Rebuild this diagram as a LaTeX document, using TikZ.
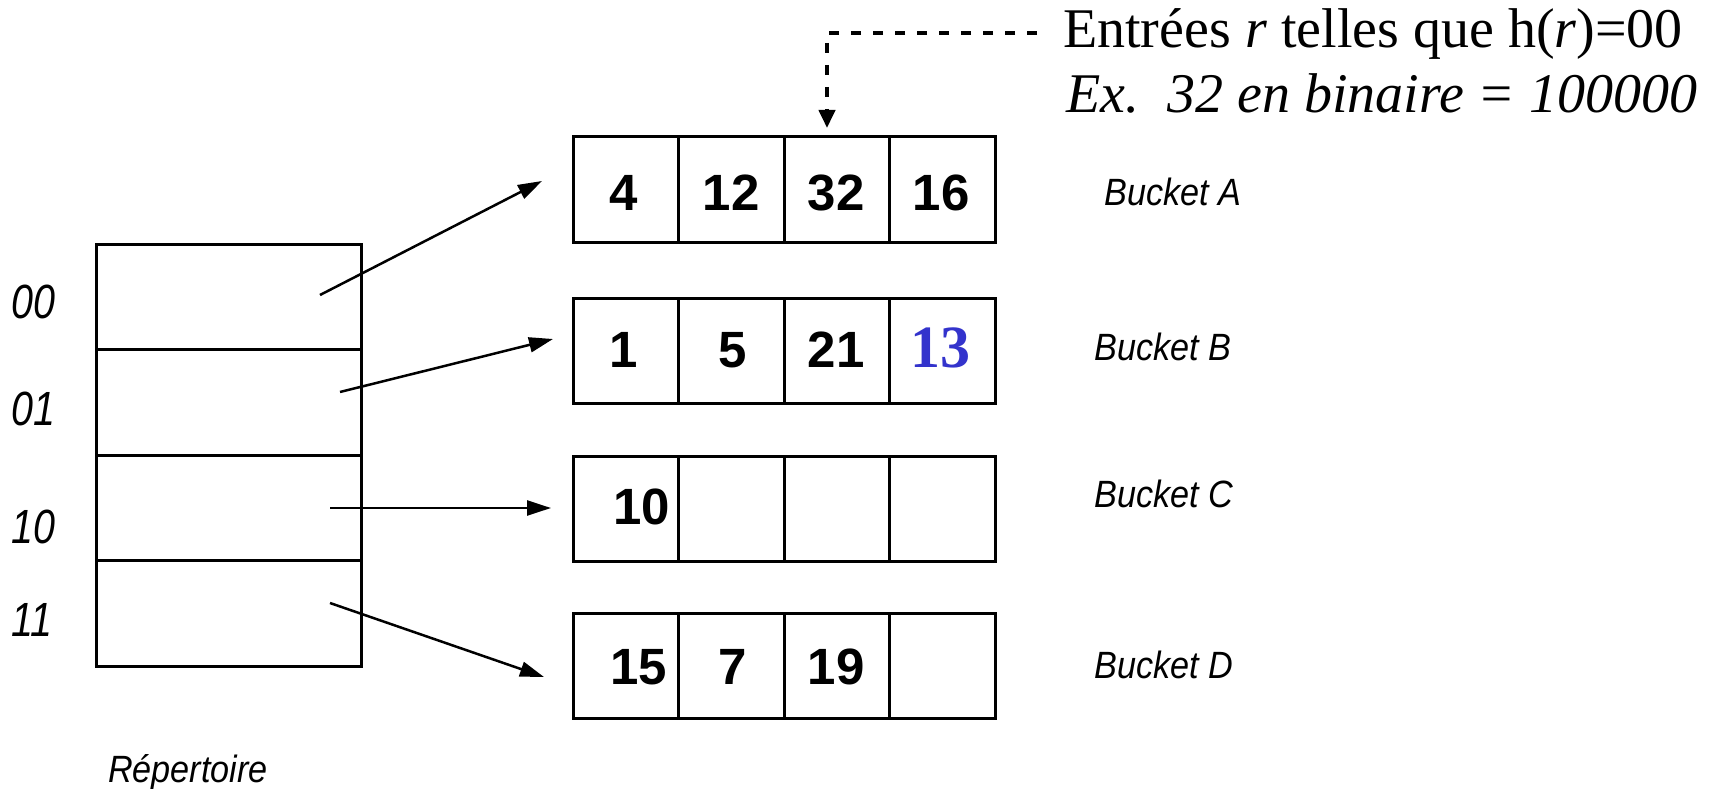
\documentclass[tikz,border=0pt]{standalone}
\usepackage{fontspec}
\setmainfont{Liberation Serif}
\newfontfamily\hv{Liberation Sans}
\usetikzlibrary{arrows.meta}
\definecolor{numblue}{RGB}{51,51,204}
\newcommand{\condtxt}[2]{\scalebox{#1}[1]{#2}}
\begin{document}
\begin{tikzpicture}[x=1pt,y=-1pt,
  cell/.style={draw,line width=3pt,minimum width=105.5pt,minimum height=105pt,inner sep=0pt,outer sep=0pt},
  dircell/.style={draw,line width=3pt,minimum width=265pt,minimum height=105.5pt,inner sep=0pt,outer sep=0pt},
  num/.style={font=\hv\bfseries\fontsize{51}{51}\selectfont,inner sep=0pt},
  lbl/.style={font=\hv\itshape\fontsize{38}{38}\selectfont,anchor=west,inner sep=0pt},
  dlbl/.style={font=\hv\itshape\fontsize{48}{48}\selectfont,anchor=west,inner sep=0pt},
  ptr/.style={line width=2.5pt,-{Triangle[length=24pt,width=15pt]}},
  note/.style={anchor=base west,inner sep=0pt,font=\fontsize{56}{60}\selectfont},
]
\useasboundingbox (0,0) rectangle (1711,789);

% directory
\node[dircell] (d00) at (228.5,296.75) {};
\node[dircell] (d01) at (228.5,402.25) {};
\node[dircell] (d10) at (228.5,507.75) {};
\node[dircell] (d11) at (228.5,613.25) {};

\node[dlbl] (l00) at (11,302) {\condtxt{0.82}{00}};
\node[dlbl] (l01) at (11,409) {\condtxt{0.82}{01}};
\node[dlbl] (l10) at (11,527) {\condtxt{0.82}{10}};
\node[dlbl] (l11) at (11,620) {\condtxt{0.82}{11}};
\node[font=\hv\itshape\fontsize{38}{38}\selectfont,anchor=base,inner sep=0pt] (rep) at (188,782) {\condtxt{0.9}{Répertoire}};

% buckets
\foreach \b/\y in {A/189.5,B/350.5,C/508.5,D/665.5}{
  \foreach \i/\x in {1/625.75,2/731.25,3/836.75,4/942.25}{
    \node[cell] (\b\i) at (\x,\y) {};
  }
}

% contents
\node[num] (vA1) at (624,193) {4};
\node[num] (vA2) at (731,193) {12};
\node[num] (vA3) at (836,193) {32};
\node[num] (vA4) at (941,193) {16};
\node[num] (vB1) at (624,350) {1};
\node[num] (vB2) at (733,350) {5};
\node[num] (vB3) at (836,350) {21};
\node[font=\bfseries\fontsize{60}{60}\selectfont,text=numblue,inner sep=0pt] (vB4) at (940,348) {13};
\node[num] (vC1) at (642,507) {10};
\node[num] (vD1) at (639,667) {15};
\node[num] (vD2) at (733,667) {7};
\node[num] (vD3) at (836,667) {19};

\node[lbl] (lA) at (1104,192) {\condtxt{0.9}{Bucket A}};
\node[lbl] (lB) at (1094,347) {\condtxt{0.9}{Bucket B}};
\node[lbl] (lC) at (1094,494) {\condtxt{0.9}{Bucket C}};
\node[lbl] (lD) at (1094,665) {\condtxt{0.9}{Bucket D}};

% pointers
\coordinate (p00) at (320,295);  \coordinate (q00) at (542,181);
\coordinate (p01) at (340,392);  \coordinate (q01) at (553,339);
\coordinate (p10) at (330,508);  \coordinate (q10) at (551,508);
\coordinate (p11) at (330,603);  \coordinate (q11) at (544,677);
\draw[ptr] (p00) -- (q00);
\draw[ptr] (p01) -- (q01);
\draw[ptr] (p10) -- (q10);
\draw[ptr] (p11) -- (q11);

% note
\node[note] (t1) at (1063,48) {Entrées \textit{r} telles que h(\textit{r})=00};
\node[note,font=\fontsize{56}{60}\selectfont\itshape] (t2) at (1066,113) {Ex.\ \ 32 en binaire = 100000};
\coordinate (c0) at (1037,33);
\coordinate (c1) at (827,33);
\coordinate (c2) at (827,128);
\draw[line width=4pt,dash pattern=on 10pt off 12pt,-{Triangle[length=18pt,width=16pt]}] (c0) -- (c1) -- (c2);
\end{tikzpicture}
\end{document}
